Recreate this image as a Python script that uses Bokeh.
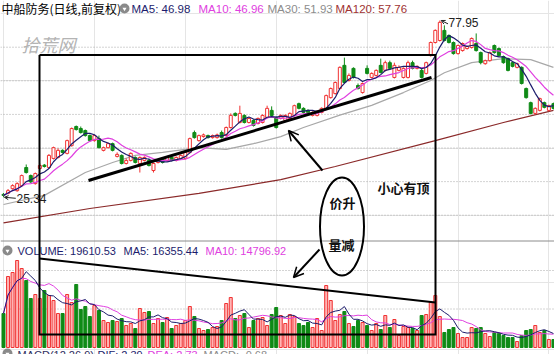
import pandas as pd
from bokeh.plotting import figure
from bokeh.models import Range1d, Arrow, OpenHead, ColumnDataSource
from bokeh.core.properties import value
from bokeh.embed import file_html
from bokeh.resources import INLINE

# ---------------- data ----------------
OPEN = [26.2, 26.5, 27.9, 27.3, 28.8, 34.2, 31.8, 29.4, 33.9, 34.9,
        34.2, 36.9, 37.2, 39.3, 38.4, 40.7, 46.4, 45.8, 45.2, 43.7,
        42.2, 42.8, 39.3, 40.1, 41.3, 37.5, 37.8, 35.4, 36.3, 37.2,
        35.4, 36.3, 36.3, 33.3, 35.7, 36.9, 36.3, 37.2, 36.3, 36.9,
        36.9, 38.7, 44.6, 42.2, 43.4, 43.7, 43.1, 43.1, 44.6, 43.7,
        46.1, 50.3, 47.6, 49.7, 47.6, 48.2, 47.3, 47.6, 49.1, 51.2,
        49.1, 48.8, 48.2, 48.8, 49.7, 53.2, 51.8, 51.2, 49.7, 49.7,
        50.6, 51.8, 55.0, 56.2, 57.7, 64.6, 60.1, 63.7, 58.6, 56.5,
        63.7, 61.0, 61.6, 64.6, 63.1, 65.4, 61.0, 63.1, 61.0, 61.0,
        65.4, 63.7, 63.1, 62.2, 67.5, 71.4, 72.0, 75.0, 73.5, 71.4,
        68.1, 69.0, 69.6, 69.9, 71.1, 68.4, 65.1, 66.0, 70.5, 69.6,
        67.2, 66.6, 65.4, 64.0, 64.0, 57.7, 53.5, 50.3, 51.2, 53.5,
        51.2, 53.2]
HIGH = [26.6, 27.8, 29.2, 29.8, 32.1, 35.1, 32.1, 32.7, 35.4, 35.2,
        38.2, 40.4, 39.9, 39.6, 42.5, 46.1, 46.7, 46.4, 45.5, 44.0,
        44.0, 43.7, 40.4, 41.6, 41.6, 38.7, 38.1, 36.9, 38.7, 37.5,
        37.5, 37.5, 36.9, 35.7, 36.6, 37.2, 37.5, 37.5, 37.5, 38.1,
        39.0, 43.1, 45.2, 44.0, 44.3, 44.0, 44.0, 44.3, 45.2, 46.4,
        50.3, 50.6, 52.6, 50.0, 49.1, 48.5, 49.1, 50.0, 52.6, 52.4,
        49.4, 50.0, 50.0, 50.6, 52.9, 53.5, 52.1, 51.5, 50.9, 51.2,
        52.1, 55.9, 58.0, 59.8, 64.3, 66.9, 62.2, 64.0, 59.2, 59.5,
        64.6, 62.5, 63.4, 66.6, 66.0, 66.0, 65.4, 64.6, 64.0, 66.0,
        66.0, 64.6, 63.7, 65.7, 71.7, 75.3, 77.95, 76.5, 73.8, 71.7,
        70.8, 71.4, 70.5, 72.9, 74.1, 68.7, 66.3, 68.7, 70.8, 69.9,
        67.5, 66.9, 65.7, 65.4, 64.3, 58.0, 53.8, 52.1, 55.0, 53.8,
        52.9, 53.5]
LOW = [25.34, 26.2, 27.6, 27.0, 28.5, 32.4, 29.6, 29.1, 33.6, 34.2,
       33.9, 36.6, 36.9, 38.4, 38.1, 40.4, 45.2, 44.3, 43.4, 41.9,
       41.9, 39.9, 39.0, 39.9, 39.0, 37.2, 35.1, 35.1, 36.0, 35.4,
       32.7, 36.0, 34.5, 32.7, 35.4, 35.4, 36.0, 36.0, 36.0, 36.6,
       36.6, 38.4, 42.8, 41.9, 43.1, 42.8, 42.8, 42.8, 42.8, 43.4,
       45.8, 49.4, 47.3, 47.3, 47.3, 46.4, 47.0, 47.3, 48.8, 49.4,
       45.8, 48.5, 47.9, 48.5, 49.4, 51.5, 50.3, 50.3, 49.4, 49.4,
       50.3, 51.5, 54.7, 55.9, 57.4, 59.2, 59.8, 60.7, 57.4, 56.2,
       61.9, 60.7, 61.3, 62.2, 62.8, 63.4, 60.7, 62.8, 60.7, 60.7,
       63.4, 63.4, 60.7, 61.9, 67.2, 71.1, 71.7, 71.7, 71.1, 67.8,
       67.8, 68.7, 69.3, 69.6, 68.7, 64.9, 64.8, 65.7, 68.1, 67.2,
       65.1, 62.8, 64.0, 63.7, 58.9, 54.7, 50.0, 50.0, 50.9, 51.8,
       50.9, 51.5]
CLOSE = [25.9, 27.3, 28.8, 29.4, 31.8, 32.7, 29.9, 32.4, 34.8, 34.5,
         37.8, 40.1, 39.3, 38.7, 42.2, 45.8, 45.5, 44.6, 43.7, 42.2,
         43.7, 40.1, 40.1, 41.3, 39.3, 38.1, 35.4, 36.3, 38.4, 35.7,
         37.2, 37.2, 34.8, 35.4, 36.3, 35.7, 37.2, 36.3, 37.2, 37.8,
         38.7, 42.8, 43.1, 43.7, 43.9, 43.1, 43.7, 43.9, 43.1, 46.1,
         49.7, 49.7, 50.3, 47.6, 48.8, 46.7, 48.8, 49.7, 51.8, 49.7,
         46.1, 49.7, 49.7, 50.3, 52.6, 51.8, 50.6, 50.6, 50.6, 50.6,
         51.8, 55.6, 57.7, 59.5, 64.0, 59.5, 61.6, 61.0, 57.7, 59.2,
         62.2, 62.2, 63.1, 62.5, 65.4, 63.7, 64.6, 64.0, 63.7, 65.4,
         63.7, 64.3, 61.0, 65.4, 71.4, 75.0, 77.4, 72.0, 71.4, 68.1,
         70.5, 71.1, 70.2, 72.6, 69.0, 65.4, 66.0, 68.4, 68.4, 67.5,
         65.4, 63.1, 64.3, 65.1, 59.2, 55.0, 50.3, 51.8, 54.7, 52.1,
         52.6, 51.8]
VOLUME = [34000, 71000, 75000, 87000, 79000, 67000, 49000, 53000, 49000, 57000,
          52000, 47000, 34000, 34000, 53000, 45000, 63000, 38000, 41000, 31000,
          42000, 37000, 27000, 25000, 27000, 26000, 29000, 22000, 24000, 19000,
          39000, 35000, 36000, 24000, 29000, 25000, 30000, 19000, 22000, 24000,
          27000, 41000, 31000, 19000, 17000, 18000, 20000, 21000, 27000, 44000,
          50000, 29000, 32000, 34000, 20000, 27000, 29000, 30000, 22000, 33000,
          40000, 32000, 24000, 33000, 31000, 24000, 22000, 25000, 20000, 29000,
          17000, 62000, 47000, 27000, 33000, 36000, 24000, 21000, 27000, 25000,
          22000, 17000, 24000, 18000, 32000, 20000, 28000, 12000, 21000, 20000,
          19000, 17000, 32000, 33000, 45000, 52000, 31000, 15000, 18000, 20000,
          14000, 10000, 10000, 20000, 19000, 20000, 14000, 11000, 15000, 14000,
          12000, 10000, 10000, 6000, 12000, 17000, 18000, 22000, 15000, 17000,
          8000, 8000]

MA30_IDX = [0, 9, 18, 24, 29, 35, 43, 49, 55, 61, 66, 74, 81, 88, 94, 97, 103, 110, 116, 121]
MA30_VAL = [23.2, 25.9, 32.7, 35.7, 37.8, 38.7, 40.1, 39.6, 41.3, 43.4, 46.1, 49.8, 52.7,
            56.5, 60.1, 62.4, 65.4, 66.6, 66.3, 64.0]
MA120_IDX = [0, 19, 43, 61, 73, 95, 110, 121]
MA120_VAL = [17.7, 22.0, 26.5, 30.6, 34.5, 42.2, 47.6, 51.2]

PRICE_GRID = [20, 30, 40, 50, 60, 70]
VOL_GRID = [38500, 77000]

TITLE = "中船防务(日线,前复权)"
HDR_TEXT = ["MA5: 46.98", "MA10: 46.96", "MA30: 51.93", "MA120: 57.76"]
VOL_TEXT = ["VOLUME: 19610.53", "MA5: 16355.44", "MA10: 14796.92"]
MACD_TEXT = ["MACD(12,26,9)", "DIF: 2.39", "DEA: 2.73", "MACD: -0.68"]
NOTE_UP = "价升"
NOTE_DOWN = "量减"
NOTE_TOP = "小心有顶"
WATERMARK = "拾荒网"

# ---------------- styling ----------------
RED = "#f03232"
RED_FILL = "#ffffff"
VOL_RED_FILL = "#ffb4b4"
GREEN = "#0f8a16"
MA5_C = "#1c1c6c"
MA10_C = "#e040e0"
MA30_C = "#a8a8a8"
MA120_C = "#8b2a2a"
LATIN = value("Liberation Sans")
CJK = value("Noto Sans CJK SC")

W, H = 554, 354
N = len(CLOSE)
idx = list(range(N))

p = figure(width=W, height=H, title=None,
           x_range=Range1d(-0.66, 121.23), y_range=Range1d(-21.45, 83.9),
           output_backend="svg", toolbar_location=None,
           x_axis_location=None, y_axis_location=None,
           min_border=0, outline_line_color=None,
           background_fill_color="white", border_fill_color="white")
p.extra_y_ranges = {"vol": Range1d(-7000, 347000), "py": Range1d(H, 0)}
p.extra_x_ranges = {"px": Range1d(0, W)}

# grid lines
for g in PRICE_GRID:
    p.segment(x0=-0.66, x1=121.23, y0=g, y1=g, line_color="#a8a8a8",
              line_dash="1 2", line_width=1)
for g in VOL_GRID:
    p.segment(x0=-0.66, x1=121.23, y0=g, y1=g, line_color="#a8a8a8",
              line_dash="1 2", line_width=1, y_range_name="vol")
# panel separator
p.segment(x0=0, x1=W, y0=240.5, y1=240.5, line_color="#8c8c8c", line_width=1,
          x_range_name="px", y_range_name="py")

# watermark
p.text(x=[21], y=[43], text=[WATERMARK], text_font=CJK, text_font_size="18px",
       text_font_style="italic", text_color="#b4b4b4", text_baseline="middle",
       x_range_name="px", y_range_name="py")

# candles
up = [c >= o for o, c in zip(OPEN, CLOSE)]
col = [RED if u else GREEN for u in up]
src = ColumnDataSource(dict(
    x=idx, o=OPEN, h=HIGH, l=LOW, c=CLOSE,
    top=[max(o, c) for o, c in zip(OPEN, CLOSE)],
    bot=[min(o, c) for o, c in zip(OPEN, CLOSE)],
    col=col, fill=[RED_FILL if u else GREEN for u in up],
    vfill=[VOL_RED_FILL if u else GREEN for u in up],
    vol=VOLUME))

ma5 = pd.Series(CLOSE).rolling(5, min_periods=1).mean()
ma10 = pd.Series(CLOSE).rolling(10, min_periods=1).mean()
p.line(MA120_IDX, MA120_VAL, line_color=MA120_C, line_width=1.2)
p.line(MA30_IDX, MA30_VAL, line_color=MA30_C, line_width=1.2)

p.segment(x0="x", x1="x", y0="l", y1="h", line_color="col", source=src)
p.vbar(x="x", width=0.66, top="top", bottom="bot", fill_color="fill",
       line_color="col", source=src)

p.line(idx, ma10, line_color=MA10_C, line_width=1.2)
p.line(idx, ma5, line_color=MA5_C, line_width=1.2)

# volume
p.vbar(x="x", width=0.66, top="vol", bottom=0, fill_color="vfill",
       line_color="col", source=src, y_range_name="vol")
vma5 = pd.Series(VOLUME).rolling(5, min_periods=1).mean()
vma10 = pd.Series(VOLUME).rolling(10, min_periods=1).mean()
p.line(idx, vma10, line_color=MA10_C, line_width=1, y_range_name="vol")
p.line(idx, vma5, line_color=MA5_C, line_width=1, y_range_name="vol")

# high / low labels
imax = max(idx, key=lambda i: HIGH[i])
imin = min(idx, key=lambda i: LOW[i])
p.add_layout(Arrow(x_start=imax + 1.8, y_start=HIGH[imax] - 1.0,
                   x_end=imax + 0.3, y_end=HIGH[imax],
                   end=OpenHead(size=4, line_width=1, line_color="#222222"),
                   line_width=1, line_color="#222222"))
p.text(x=[imax + 1.9], y=[HIGH[imax] - 0.6], text=[f"{HIGH[imax]:.2f}"],
       text_font=LATIN, text_font_size="12px", text_color="#222222",
       text_baseline="middle")
p.add_layout(Arrow(x_start=imin + 2.7, y_start=LOW[imin] - 0.3,
                   x_end=imin + 0.2, y_end=LOW[imin],
                   end=OpenHead(size=4, line_width=1, line_color="#222222"),
                   line_width=1, line_color="#222222"))
p.text(x=[imin + 2.85], y=[LOW[imin] - 0.4], text=[f"{LOW[imin]:.2f}"],
       text_font=LATIN, text_font_size="12px", text_color="#222222",
       text_baseline="middle")

# ---------------- headers ----------------
def icon(x, y):
    p.scatter(x=[x], y=[y], size=10, marker="circle", fill_color="#8a8a8a",
              line_color=None, x_range_name="px", y_range_name="py")
    p.scatter(x=[x], y=[y + 0.5], size=4, marker="inverted_triangle",
              fill_color="white", line_color=None, x_range_name="px", y_range_name="py")

p.text(x=[1], y=[8], text=[TITLE], text_font=CJK, text_font_size="12px",
       text_color="#000000", text_baseline="middle", x_range_name="px", y_range_name="py")
icon(124, 8)
p.text(x=[131, 198, 267, 335], y=[8] * 4, text=HDR_TEXT, text_font=LATIN,
       text_font_size="11.5px", text_color=[MA5_C, MA10_C, "#8c8c8c", "#a03232"],
       text_baseline="middle", x_range_name="px", y_range_name="py")

icon(7, 250)
p.text(x=[17, 123, 205], y=[250] * 3, text=VOL_TEXT, text_font=LATIN,
       text_font_size="11px", text_color=[MA5_C, MA5_C, MA10_C],
       text_baseline="middle", x_range_name="px", y_range_name="py")

icon(7, 353)
p.text(x=[17, 97, 147, 203], y=[354] * 4, text=MACD_TEXT, text_font=LATIN,
       text_font_size="11px", text_color=["#303060", MA5_C, MA10_C, "#8c8c8c"],
       text_baseline="middle", x_range_name="px", y_range_name="py")

# ---------------- hand-drawn annotation ----------------
kw = dict(x_range_name="px", y_range_name="py")
p.line([39, 435, 435, 39, 39], [54.5, 54.5, 334, 334, 54.5], line_color="black",
       line_width=2, line_join="miter", **kw)
p.line([88, 431], [180, 77], line_color="black", line_width=3, **kw)
p.line([39, 435], [258, 302], line_color="black", line_width=2, **kw)
p.add_layout(Arrow(x_start=322, y_start=170, x_end=288, y_end=130,
                   end=OpenHead(size=10, line_width=1.5), line_width=2, **kw))
p.add_layout(Arrow(x_start=319, y_start=249, x_end=293, y_end=277,
                   end=OpenHead(size=10, line_width=1.5), line_width=2, **kw))
p.ellipse(x=[341.5], y=[226], width=44, height=98, width_units="screen",
          height_units="screen", fill_color=None, line_color="black", line_width=2, **kw)
p.text(x=[342, 341, 403], y=[202, 244, 187], text=[NOTE_UP, NOTE_DOWN, NOTE_TOP],
       text_font=CJK, text_font_size="13px", text_font_style="bold",
       text_color="#111111", text_align="center", text_baseline="middle", **kw)

open("out.html", "w").write(file_html(p, INLINE))
